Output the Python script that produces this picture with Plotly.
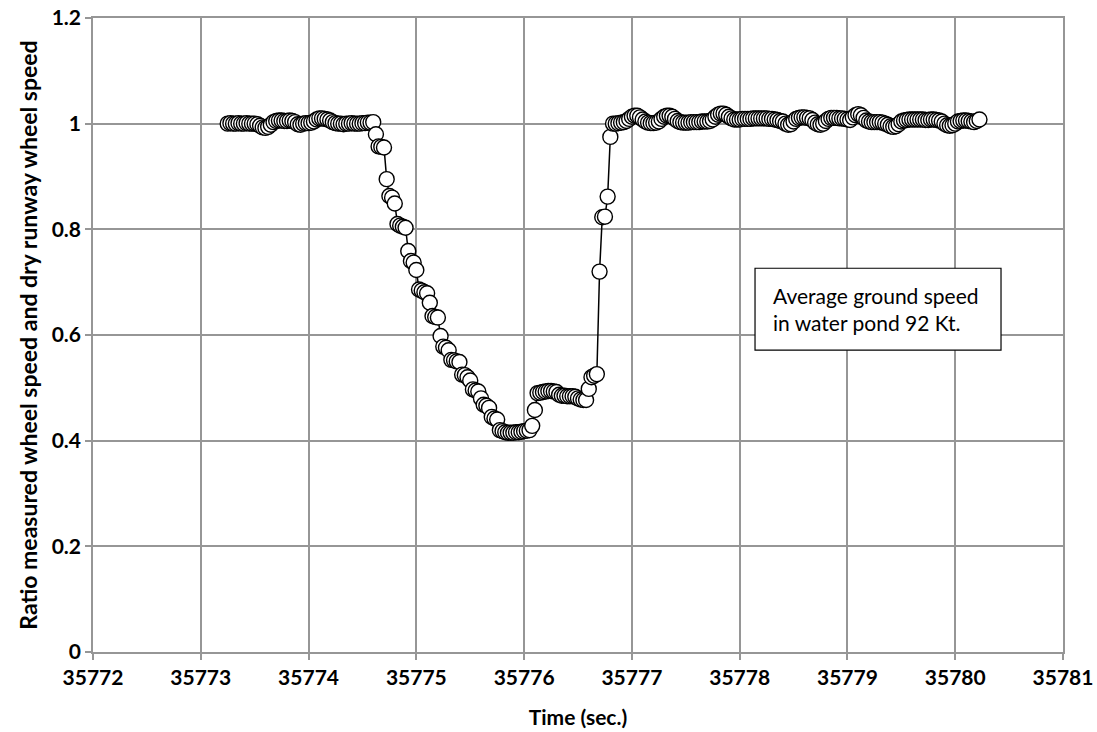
import plotly.graph_objects as go

# Sample times (s), 40 Hz record
time_s = [
    35773.250, 35773.275, 35773.300, 35773.325, 35773.350, 35773.375, 35773.400, 35773.425, 35773.450, 35773.475,
    35773.500, 35773.525, 35773.550, 35773.575, 35773.600, 35773.625, 35773.650, 35773.675, 35773.700, 35773.725,
    35773.750, 35773.775, 35773.800, 35773.825, 35773.850, 35773.875, 35773.900, 35773.925, 35773.950, 35773.975,
    35774.000, 35774.025, 35774.050, 35774.075, 35774.100, 35774.125, 35774.150, 35774.175, 35774.200, 35774.225,
    35774.250, 35774.275, 35774.300, 35774.325, 35774.350, 35774.375, 35774.400, 35774.425, 35774.450, 35774.475,
    35774.500, 35774.525, 35774.550, 35774.575, 35774.600, 35774.625, 35774.650, 35774.675, 35774.700, 35774.725,
    35774.750, 35774.775, 35774.800, 35774.825, 35774.850, 35774.875, 35774.900, 35774.925, 35774.950, 35774.975,
    35775.000, 35775.025, 35775.050, 35775.075, 35775.100, 35775.125, 35775.150, 35775.175, 35775.200, 35775.225,
    35775.250, 35775.275, 35775.300, 35775.325, 35775.350, 35775.375, 35775.400, 35775.425, 35775.450, 35775.475,
    35775.500, 35775.525, 35775.550, 35775.575, 35775.600, 35775.625, 35775.650, 35775.675, 35775.700, 35775.725,
    35775.750, 35775.775, 35775.800, 35775.825, 35775.850, 35775.875, 35775.900, 35775.925, 35775.950, 35775.975,
    35776.000, 35776.025, 35776.050, 35776.075, 35776.100, 35776.125, 35776.150, 35776.175, 35776.200, 35776.225,
    35776.250, 35776.275, 35776.300, 35776.325, 35776.350, 35776.375, 35776.400, 35776.425, 35776.450, 35776.475,
    35776.500, 35776.525, 35776.550, 35776.575, 35776.600, 35776.625, 35776.650, 35776.675, 35776.700, 35776.725,
    35776.750, 35776.775, 35776.800, 35776.825, 35776.850, 35776.875, 35776.900, 35776.925, 35776.950, 35776.975,
    35777.000, 35777.025, 35777.050, 35777.075, 35777.100, 35777.125, 35777.150, 35777.175, 35777.200, 35777.225,
    35777.250, 35777.275, 35777.300, 35777.325, 35777.350, 35777.375, 35777.400, 35777.425, 35777.450, 35777.475,
    35777.500, 35777.525, 35777.550, 35777.575, 35777.600, 35777.625, 35777.650, 35777.675, 35777.700, 35777.725,
    35777.750, 35777.775, 35777.800, 35777.825, 35777.850, 35777.875, 35777.900, 35777.925, 35777.950, 35777.975,
    35778.000, 35778.025, 35778.050, 35778.075, 35778.100, 35778.125, 35778.150, 35778.175, 35778.200, 35778.225,
    35778.250, 35778.275, 35778.300, 35778.325, 35778.350, 35778.375, 35778.400, 35778.425, 35778.450, 35778.475,
    35778.500, 35778.525, 35778.550, 35778.575, 35778.600, 35778.625, 35778.650, 35778.675, 35778.700, 35778.725,
    35778.750, 35778.775, 35778.800, 35778.825, 35778.850, 35778.875, 35778.900, 35778.925, 35778.950, 35778.975,
    35779.000, 35779.025, 35779.050, 35779.075, 35779.100, 35779.125, 35779.150, 35779.175, 35779.200, 35779.225,
    35779.250, 35779.275, 35779.300, 35779.325, 35779.350, 35779.375, 35779.400, 35779.425, 35779.450, 35779.475,
    35779.500, 35779.525, 35779.550, 35779.575, 35779.600, 35779.625, 35779.650, 35779.675, 35779.700, 35779.725,
    35779.750, 35779.775, 35779.800, 35779.825, 35779.850, 35779.875, 35779.900, 35779.925, 35779.950, 35779.975,
    35780.000, 35780.025, 35780.050, 35780.075, 35780.100, 35780.125, 35780.150, 35780.175, 35780.200, 35780.225,
]

# Ratio of measured wheel speed to dry-runway wheel speed
ratio = [
    # dry runway before the pond
    1.000, 1.001, 1.000, 1.000, 1.001, 1.000, 1.000, 1.001, 1.000, 1.000, 1.000, 0.999,
    0.996, 0.993, 0.992, 0.994, 0.998,
    1.003, 1.005, 1.006, 1.006, 1.005, 1.005, 1.006, 1.005, 1.003,
    0.999, 0.998,
    1.000, 1.001, 1.001, 1.002, 1.004,
    1.008, 1.010, 1.010, 1.009, 1.008, 1.006, 1.003,
    1.001, 1.000, 1.000, 0.999, 1.000, 1.000, 1.001, 1.000, 1.000, 1.000, 1.001, 1.001, 1.002, 1.002, 1.003,
    # spin-down in the water
    0.980, 0.957, 0.956, 0.955, 0.895,
    0.863, 0.860, 0.849, 0.810, 0.807,
    0.805, 0.803, 0.759, 0.740, 0.737,
    0.723, 0.686, 0.684, 0.681, 0.679,
    0.661, 0.636, 0.634, 0.633, 0.598,
    0.578, 0.576, 0.571, 0.553, 0.552,
    0.550, 0.549, 0.525, 0.524, 0.520,
    0.514, 0.497, 0.495, 0.493, 0.480,
    0.468, 0.466, 0.462, 0.445, 0.442,
    0.440, 0.420,
    # minimum
    0.418, 0.416, 0.415, 0.415, 0.415, 0.416, 0.416, 0.417, 0.418, 0.419, 0.420, 0.428, 0.458,
    # intermediate plateau
    0.490, 0.491, 0.492, 0.493, 0.494, 0.494, 0.493, 0.492,
    0.487, 0.485, 0.485, 0.484, 0.484, 0.484, 0.483,
    0.480, 0.478, 0.477, 0.477,
    0.498, 0.520, 0.523, 0.526,
    # spin-up on leaving the pond
    0.720, 0.823, 0.824, 0.862, 0.975,
    # dry runway after the pond
    1.000, 1.000, 1.001, 1.002, 1.003, 1.005,
    1.009, 1.013, 1.015, 1.015, 1.012, 1.008, 1.004, 1.002,
    1.001, 1.001, 1.002, 1.004,
    1.009, 1.013, 1.015, 1.015, 1.013, 1.009, 1.005, 1.003,
    1.002, 1.002, 1.002, 1.003, 1.003, 1.003, 1.003, 1.004, 1.004, 1.004, 1.005, 1.008,
    1.013, 1.017, 1.019, 1.019, 1.017, 1.013, 1.010,
    1.008, 1.008, 1.008, 1.009, 1.009, 1.009, 1.009, 1.010, 1.010, 1.010, 1.010, 1.010, 1.010, 1.009, 1.009, 1.008, 1.007, 1.005,
    1.004, 1.000, 0.998, 0.999, 1.004,
    1.009, 1.011, 1.012, 1.012, 1.011, 1.010, 1.007,
    1.002, 0.999, 0.998, 1.000, 1.005,
    1.009, 1.011, 1.011, 1.011, 1.010, 1.010, 1.009, 1.008, 1.007,
    1.012, 1.016, 1.018, 1.016, 1.011, 1.006,
    1.004, 1.003, 1.003, 1.003, 1.003, 1.002, 1.000, 0.998,
    0.995, 0.994, 0.995, 0.999,
    1.004, 1.006, 1.007, 1.008, 1.008, 1.008, 1.008, 1.008, 1.008, 1.007, 1.007, 1.008, 1.008, 1.007, 1.006, 1.004,
    1.000, 0.997, 0.996, 0.997, 1.000,
    1.004, 1.005, 1.006, 1.006, 1.005, 1.004, 1.003, 1.005, 1.008,
]

x_range = [35772, 35781]
y_range = [0, 1.2]
note_text = "Average ground speed<br>in water pond 92 Kt."

GRID = "#969696"
FONT = "Lato"

fig = go.Figure()
fig.add_trace(go.Scatter(
    x=time_s, y=ratio,
    mode="lines+markers",
    line=dict(color="black", width=1.5),
    marker=dict(symbol="circle", size=15, color="white",
                line=dict(color="black", width=1.4)),
    showlegend=False,
))

axis_common = dict(
    automargin=False,
    showgrid=True, gridcolor=GRID, gridwidth=1.6,
    showline=True, linecolor=GRID, linewidth=1.6, mirror=True,
    ticks="outside", ticklen=6, tickcolor=GRID, tickwidth=1.6,
    zeroline=False,
    tickfont=dict(family=FONT, size=21, color="black", weight="bold"),
)

fig.update_xaxes(
    range=x_range, tick0=35772, dtick=1, tickformat="d",
    title=dict(text="Time (sec.)", font=dict(family=FONT, size=21, color="black", weight="bold"), standoff=22),
    **axis_common,
)
fig.update_yaxes(
    range=y_range, tick0=0, dtick=0.2,
    title=dict(text="Ratio measured wheel speed and dry runway wheel speed",
               font=dict(family=FONT, size=23, color="black", weight="bold"), standoff=8),
    **axis_common,
)

# Note box
fig.add_shape(type="rect", xref="paper", yref="paper",
              x0=0.6825, x1=0.9361, y0=0.4760, y1=0.6053,
              line=dict(color="black", width=1.2), fillcolor="white", layer="above")
fig.add_annotation(xref="paper", yref="paper", x=0.6990, y=0.5405,
                   xanchor="left", yanchor="middle", align="left", showarrow=False,
                   text=note_text, font=dict(family=FONT, size=21, color="black"))

fig.update_layout(
    width=1097, height=732,
    margin=dict(l=93, r=34, t=18, b=80),
    paper_bgcolor="white", plot_bgcolor="white",
)

fig.write_html("out.html")
